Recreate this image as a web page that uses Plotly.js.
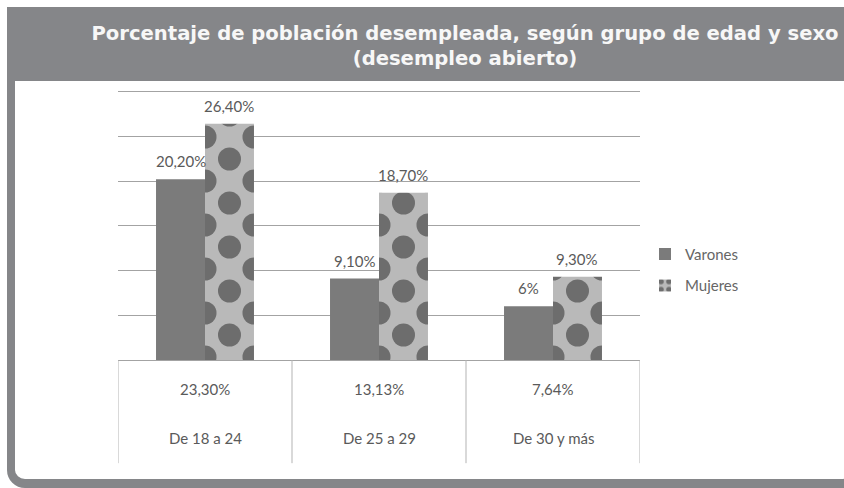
<!DOCTYPE html>
<html>
<head>
<meta charset="utf-8">
<script src="https://cdn.plot.ly/plotly-3.0.1.min.js"></script>
<style>
  html, body { margin: 0; padding: 0; background: #ffffff; overflow: hidden; }
  #wrap { position: relative; width: 844px; height: 488px; overflow: hidden; }
  #frame { position: absolute; left: 7px; top: 7px; width: 837px; height: 398px;
           border-style: solid; border-color: #858689; border-width: 74px 8px 9px 8px;
           border-radius: 0 0 18px 18px; background: #ffffff; }
  #chart { position: absolute; left: 0; top: 0; width: 844px; height: 488px; }
</style>
</head>
<body>
<div id="wrap">
  <div id="frame"></div>
  <div id="chart"></div>
</div>
<script>
// ---- data ----
const categories = ['De 18 a 24', 'De 25 a 29', 'De 30 y más'];
const seriesNames = ['Varones', 'Mujeres'];
const varones = [20.2, 9.1, 6];
const mujeres = [26.4, 18.7, 9.3];
const varonesLabels = ['20,20%', '9,10%', '6%'];
const mujeresLabels = ['26,40%', '18,70%', '9,30%'];
const totals = ['23,30%', '13,13%', '7,64%'];
const yTicks = [0, 5, 10, 15, 20, 25, 30];

// ---- style ----
const textColor = '#5a5a5a';
const gridColor = '#a3a3a3';
const W = 844, H = 488;
const yMax = 30.4;
const baseY = 360, topTickY = 92;          // pixel rows of 0 % and 30 %
const pxPerUnit = (baseY - topTickY) / 30;
const M = {l: 118, r: 204, t: baseY - yMax * pxPerUnit, b: H - baseY};
const plotW = W - M.l - M.r, plotH = H - M.t - M.b;
const bargap = 0.437;
const barPx = (1 - bargap) / 2 * plotW / categories.length;

const traces = [
  {
    type: 'bar', name: seriesNames[0], x: categories, y: varones,
    marker: {color: '#7b7b7b', line: {width: 0}},
    legendgroup: 'v', hoverinfo: 'skip'
  },
  {
    type: 'bar', name: seriesNames[1], x: categories, y: mujeres,
    marker: {color: '#b9b9b9', line: {width: 0},
      pattern: {shape: '.', fgcolor: '#6d6d6d', bgcolor: '#b9b9b9', size: 33, solidity: 0.38, fillmode: 'replace'}},
    legendgroup: 'm', hoverinfo: 'skip'
  }
];

const annotations = [];
const labelFont = {family: 'Lato, "Open Sans", sans-serif', size: 15, color: textColor};
[[varones, varonesLabels], [mujeres, mujeresLabels]].forEach(([vals, labs], s) => {
  vals.forEach((v, i) => {
    annotations.push({
      xref: 'x', yref: 'y', x: categories[i], y: v, text: labs[i],
      showarrow: false, xanchor: 'center', yanchor: 'bottom',
      xshift: (s - 0.5) * barPx, yshift: 7, font: labelFont
    });
  });
});
// table rows (paper y below the plot)
const toPaperY = py => (baseY - py) / plotH;
categories.forEach((c, i) => {
  annotations.push({xref: 'x', yref: 'paper', x: c, y: toPaperY(389), text: totals[i],
    showarrow: false, xanchor: 'center', yanchor: 'middle', font: labelFont});
  annotations.push({xref: 'x', yref: 'paper', x: c, y: toPaperY(438), text: c,
    showarrow: false, xanchor: 'center', yanchor: 'middle', font: labelFont});
});

// table vertical lines at category boundaries
const shapes = [];
for (let k = 0; k <= categories.length; k++) {
  shapes.push({type: 'line', xref: 'x', yref: 'paper', x0: k - 0.5, x1: k - 0.5,
    y0: 0, y1: toPaperY(463), line: {color: '#b3b3b3', width: 1}});
}

const layout = {
  width: W, height: H,
  margin: M,
  paper_bgcolor: 'rgba(0,0,0,0)',
  plot_bgcolor: 'rgba(0,0,0,0)',
  title: {
    text: 'Porcentaje de población desempleada, según grupo de edad y sexo<br>(desempleo abierto)',
    x: 465 / W, xanchor: 'center', xref: 'container',
    y: 1 - 40 / H, yanchor: 'top', yref: 'container',
    font: {family: '"DejaVu Sans", sans-serif', size: 19.6, color: '#f7f7f7', weight: 'bold'}
  },
  barmode: 'group',
  bargap: bargap,
  bargroupgap: 0,
  showlegend: true,
  legend: {
    x: (645 - M.l) / plotW, xanchor: 'left',
    y: toPaperY(238), yanchor: 'top',
    font: {family: 'Lato, "Open Sans", sans-serif', size: 15, color: '#666666'},
    tracegroupgap: 9, bgcolor: 'rgba(0,0,0,0)', itemwidth: 30
  },
  xaxis: {
    type: 'category', range: [-0.5, categories.length - 0.5],
    showticklabels: false, showgrid: false, zeroline: false, showline: false, ticks: ''
  },
  yaxis: {
    range: [0, yMax], tickvals: yTicks, showticklabels: false, ticks: '',
    showgrid: true, gridcolor: gridColor, gridwidth: 1,
    zeroline: true, zerolinecolor: gridColor, zerolinewidth: 1, showline: false
  },
  annotations: annotations,
  shapes: shapes,
  font: {family: 'Lato, sans-serif', color: textColor}
};

Plotly.newPlot('chart', traces, layout, {staticPlot: true, displayModeBar: false}).then(gd => {
  try {
    const svgNS = 'http://www.w3.org/2000/svg';
    const defs = gd.querySelector('svg.main-svg defs');
    const barTraces = gd.querySelectorAll('.barlayer .trace');
    const mTrace = barTraces[1];
    const fg = traces[1].marker.pattern.fgcolor, bg = traces[1].marker.pattern.bgcolor;
    const period = 44, r = 11.5;
    mTrace.querySelectorAll('.point path').forEach((p, idx) => {
      const bb = p.getBBox();
      if (!bb.width) return;
      const id = 'stagdots' + idx;
      const pat = document.createElementNS(svgNS, 'pattern');
      pat.setAttribute('id', id);
      pat.setAttribute('patternUnits', 'userSpaceOnUse');
      pat.setAttribute('x', bb.x);
      pat.setAttribute('y', bb.y + bb.height);
      pat.setAttribute('width', bb.width);
      pat.setAttribute('height', period);
      const rect = document.createElementNS(svgNS, 'rect');
      rect.setAttribute('width', bb.width); rect.setAttribute('height', period);
      rect.setAttribute('fill', bg);
      pat.appendChild(rect);
      const pts = [[bb.width / 2, 19], [0, 41], [bb.width, 41], [0, -3], [bb.width, -3]];
      pts.forEach(([cx, cy]) => {
        const c = document.createElementNS(svgNS, 'circle');
        c.setAttribute('cx', cx); c.setAttribute('cy', cy); c.setAttribute('r', r);
        c.setAttribute('fill', fg);
        pat.appendChild(c);
      });
      defs.appendChild(pat);
      p.style.fill = 'url(#' + id + ')';
    });
  } catch (e) { console.log(e); }
});
</script>
</body>
</html>
